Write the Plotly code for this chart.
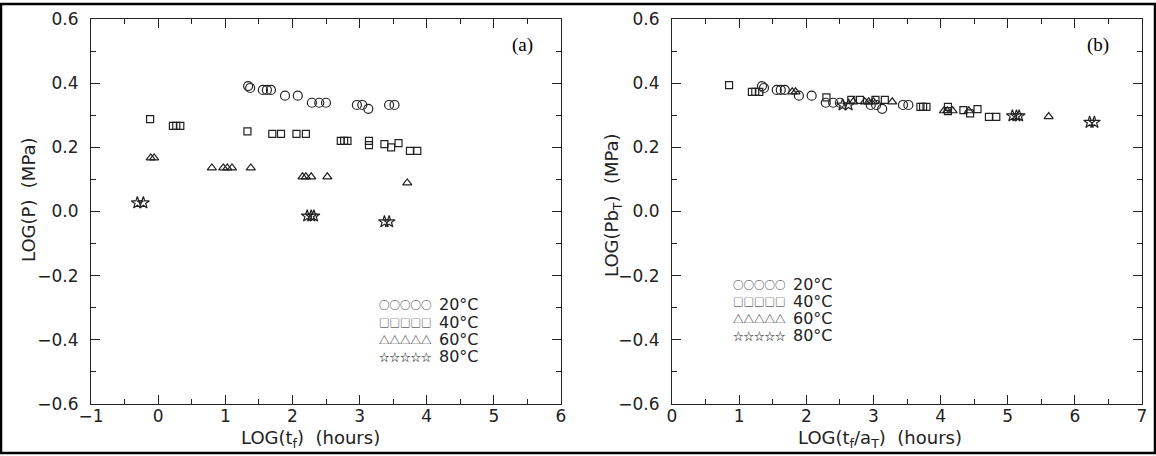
import plotly.graph_objects as go

# ---------------- data ----------------
# Panel (a): LOG(P) vs LOG(t_f)
a_20_x = [1.34, 1.37, 1.56, 1.62, 1.68, 1.89, 2.08, 2.29, 2.40, 2.50, 2.96, 3.04, 3.13, 3.44, 3.52]
a_20_y = [0.391, 0.385, 0.379, 0.379, 0.379, 0.361, 0.361, 0.339, 0.339, 0.339, 0.332, 0.332, 0.320, 0.332, 0.332]
a_40_x = [-0.12, 0.22, 0.27, 0.33, 1.33, 1.70, 1.83, 2.06, 2.20, 2.72, 2.77, 2.82, 3.14, 3.14, 3.37, 3.47, 3.58, 3.75, 3.86]
a_40_y = [0.288, 0.267, 0.267, 0.267, 0.250, 0.242, 0.242, 0.242, 0.242, 0.220, 0.220, 0.220, 0.220, 0.207, 0.210, 0.200, 0.213, 0.189, 0.189]
a_60_x = [-0.11, -0.06, 0.80, 0.97, 1.03, 1.10, 1.38, 2.15, 2.20, 2.28, 2.52, 3.71]
a_60_y = [0.167, 0.167, 0.136, 0.136, 0.136, 0.136, 0.136, 0.108, 0.108, 0.108, 0.108, 0.089]
a_80_x = [-0.31, -0.22, 2.22, 2.28, 2.32, 3.37, 3.44]
a_80_y = [0.027, 0.027, -0.014, -0.014, -0.014, -0.032, -0.032]

# Panel (b): LOG(Pb_T) vs LOG(t_f/a_T)
b_20_x = [1.34, 1.37, 1.56, 1.62, 1.68, 1.89, 2.08, 2.29, 2.40, 2.50, 2.96, 3.04, 3.13, 3.44, 3.52]
b_20_y = [0.391, 0.385, 0.379, 0.379, 0.379, 0.361, 0.361, 0.339, 0.339, 0.339, 0.332, 0.332, 0.320, 0.332, 0.332]
b_40_x = [0.85, 1.19, 1.24, 1.30, 2.30, 2.67, 2.80, 3.03, 3.17, 3.70, 3.74, 3.79, 4.11, 4.11, 4.34, 4.44, 4.55, 4.72, 4.83]
b_40_y = [0.394, 0.373, 0.373, 0.373, 0.356, 0.348, 0.348, 0.348, 0.348, 0.326, 0.326, 0.326, 0.326, 0.313, 0.316, 0.306, 0.319, 0.295, 0.295]
b_60_x = [1.79, 1.84, 2.70, 2.87, 2.93, 3.00, 3.28, 4.05, 4.10, 4.18, 4.42, 5.61]
b_60_y = [0.373, 0.373, 0.342, 0.342, 0.342, 0.342, 0.342, 0.314, 0.314, 0.314, 0.314, 0.296]
b_80_x = [2.54, 2.63, 5.07, 5.13, 5.17, 6.22, 6.29]
b_80_y = [0.332, 0.332, 0.298, 0.298, 0.298, 0.278, 0.278]

temps = ["20°C", "40°C", "60°C", "80°C"]
legend_glyphs = ["○○○○○", "□□□□□", "△△△△△", "☆☆☆☆☆"]

# ---------------- figure ----------------
W, H = 1156, 456
INK = "#222222"
FONT = "DejaVu Sans"
GLYPH_FONT = "Noto Sans CJK JP"


def fx(p):
    return p / W


def fy(p):
    return 1 - p / H


symbols = ["circle-open", "square-open", "triangle-up-open", "star-open"]
sizes = [9, 7, 8, 9]

fig = go.Figure()
panel_a = [(a_20_x, a_20_y), (a_40_x, a_40_y), (a_60_x, a_60_y), (a_80_x, a_80_y)]
panel_b = [(b_20_x, b_20_y), (b_40_x, b_40_y), (b_60_x, b_60_y), (b_80_x, b_80_y)]
for i, (xs, ys) in enumerate(panel_a):
    fig.add_trace(go.Scatter(x=xs, y=ys, mode="markers", name=temps[i], showlegend=False,
                             marker=dict(symbol=symbols[i], size=sizes[i], color=INK,
                                         line=dict(width=1.2, color=INK)),
                             xaxis="x", yaxis="y"))
for i, (xs, ys) in enumerate(panel_b):
    fig.add_trace(go.Scatter(x=xs, y=ys, mode="markers", name=temps[i], showlegend=False,
                             marker=dict(symbol=symbols[i], size=sizes[i], color=INK,
                                         line=dict(width=1.2, color=INK)),
                             xaxis="x2", yaxis="y2"))

ydom = [fy(404), fy(19)]
common_axis = dict(showline=True, linecolor=INK, linewidth=1.2, mirror="ticks",
                   ticks="inside", ticklen=9, tickwidth=1.2, tickcolor=INK,
                   showgrid=False, zeroline=False, automargin=False,
                   tickfont=dict(family=FONT, size=17, color=INK))
xminor = dict(dtick=0.5, ticks="inside", ticklen=5, tickwidth=1, tickcolor=INK, showgrid=False)
yminor = dict(dtick=0.1, ticks="inside", ticklen=5, tickwidth=1, tickcolor=INK, showgrid=False)

fig.update_layout(
    template="none",
    width=W, height=H, autosize=False,
    margin=dict(l=0, r=0, t=0, b=0, pad=0, autoexpand=False),
    showlegend=False,
    paper_bgcolor="white", plot_bgcolor="white",
    xaxis=dict(domain=[fx(91), fx(561)], range=[-1, 6], dtick=1, tick0=0, anchor="y",
               minor=xminor, ticklabelstandoff=-4, **common_axis),
    yaxis=dict(domain=ydom, range=[-0.6, 0.6], dtick=0.2, tick0=0, tickformat=".1f", anchor="x",
               minor=yminor, ticklabelstandoff=8, **common_axis),
    xaxis2=dict(domain=[fx(672), fx(1142)], range=[0, 7], dtick=1, tick0=0, anchor="y2",
                minor=xminor, ticklabelstandoff=-4, **common_axis),
    yaxis2=dict(domain=ydom, range=[-0.6, 0.6], dtick=0.2, tick0=0, tickformat=".1f", anchor="x2",
                minor=yminor, ticklabelstandoff=8, **common_axis),
)

ann = []
lab = dict(family=FONT, size=18, color=INK)
# axis titles
ann.append(dict(text="LOG(t<sub>f</sub>)  (hours)", x=fx(310), y=fy(439), xref="paper", yref="paper",
                showarrow=False, font=lab, xanchor="center", yanchor="middle"))
ann.append(dict(text="LOG(t<sub>f</sub>/a<sub>T</sub>)  (hours)", x=fx(880), y=fy(439), xref="paper",
                yref="paper", showarrow=False, font=lab, xanchor="center", yanchor="middle"))
ann.append(dict(text="LOG(P)  (MPa)", x=fx(28), y=fy(200), xref="paper", yref="paper",
                showarrow=False, font=lab, textangle=-90, xanchor="center", yanchor="middle"))
ann.append(dict(text="LOG(Pb<sub>T</sub>)  (MPa)", x=fx(613), y=fy(205), xref="paper", yref="paper",
                showarrow=False, font=lab, textangle=-90, xanchor="center", yanchor="middle"))
# panel labels
ann.append(dict(text="(a)", x=fx(522), y=fy(45), xref="paper", yref="paper", showarrow=False,
                font=dict(family="Liberation Serif", size=19, color="black"),
                xanchor="center", yanchor="middle"))
ann.append(dict(text="(b)", x=fx(1098), y=fy(45), xref="paper", yref="paper", showarrow=False,
                font=dict(family="Liberation Serif", size=19, color="black"),
                xanchor="center", yanchor="middle"))
# in-plot legends
left_rows = [304, 322, 339, 356]
right_rows = [284, 301, 318, 335]
for i in range(4):
    for (gx, tx, ry) in [(377, 437, left_rows[i]), (731, 791, right_rows[i])]:
        ann.append(dict(text=legend_glyphs[i], x=fx(gx), y=fy(ry), xref="paper", yref="paper",
                        showarrow=False, font=dict(family=GLYPH_FONT, size=10.5, color=INK),
                        xanchor="left", yanchor="middle"))
        ann.append(dict(text=temps[i], x=fx(tx), y=fy(ry), xref="paper", yref="paper",
                        showarrow=False, font=dict(family=FONT, size=16, color=INK),
                        xanchor="left", yanchor="middle"))
fig.update_layout(annotations=ann)

# outer border
fig.add_shape(type="rect", xref="paper", yref="paper", x0=fx(1), x1=fx(1155), y0=fy(453), y1=fy(4),
              line=dict(color="black", width=2.5), fillcolor="rgba(0,0,0,0)")

fig.write_html("out.html", config={"displayModeBar": False},
               post_script="document.body.style.margin='0';")
